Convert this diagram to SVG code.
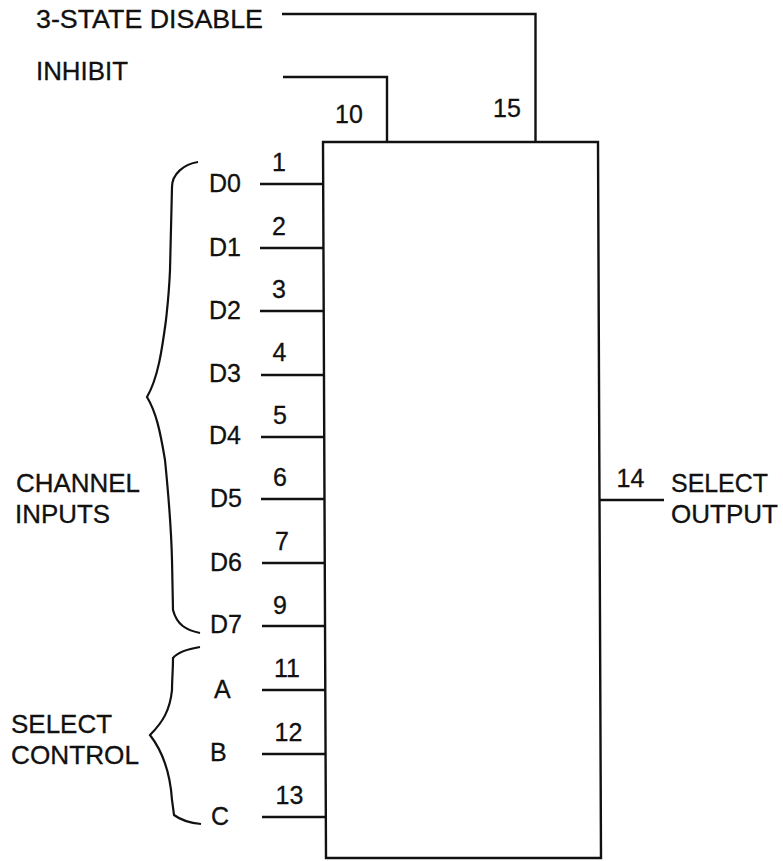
<svg xmlns="http://www.w3.org/2000/svg" width="783" height="861" viewBox="0 0 783 861">
<style>
text{font-family:"Liberation Sans",Arial,sans-serif;font-size:25px;fill:#111;stroke:#111;stroke-width:.3}
.l{fill:none;stroke:#111;stroke-width:2.4}
.b{fill:none;stroke:#111;stroke-width:2.2}
</style>
<rect width="783" height="861" fill="#fff"/>
<g id="chip"><path class="l" d="M323 142H598L601 858H326Z"/></g>
<g id="connectors">
<path class="l" d="M282 14H535.5V142M283 77H387V142"/>
<path class="l" d="M260 184H324M260 248H324M260 311H324M261 375H324M261 437H324M261 499H324M262 563H325M262 626H325M262 690H325M262 754H325M262 817H325M600 500H664"/>
<path class="b" d="M198 162C184 164 172 174 172 187L170 270C169 295 167 310 166 320C162 350 158 378 147 397C156 412 160 430 165 460C168 490 171 520 172 560L173 610C177 625 186 630 200 633"/>
<path class="b" d="M200 647C188 649 178 652 173 658C173 670 172 680 172 690C170 710 163 722 150 735C160 748 170 770 172 800L174 815C182 821 190 823 201 824"/>
</g>
<g id="labels">
<text x="36" y="28" textLength="227" lengthAdjust="spacingAndGlyphs">3-STATE DISABLE</text><text x="36" y="80" textLength="92" lengthAdjust="spacingAndGlyphs">INHIBIT</text>
<text x="335" y="123">10</text><text x="493" y="117">15</text>
<text x="209" y="192">D0</text><text x="209" y="256">D1</text><text x="209" y="319">D2</text><text x="209" y="382">D3</text><text x="209" y="444">D4</text><text x="210" y="507">D5</text><text x="210" y="571">D6</text><text x="210" y="633">D7</text>
<text x="272" y="171">1</text><text x="272" y="235">2</text><text x="272" y="298">3</text><text x="272.500" y="361">4</text><text x="273" y="424">5</text><text x="273" y="486">6</text><text x="275" y="550">7</text><text x="273" y="614">9</text>
<text x="274" y="677">11</text><text x="274.500" y="741">12</text><text x="275.500" y="804">13</text>
<text x="214" y="698">A</text><text x="210" y="761">B</text><text x="211" y="825">C</text>
<text x="16" y="492" textLength="124" lengthAdjust="spacingAndGlyphs">CHANNEL</text><text x="15" y="523" textLength="95" lengthAdjust="spacingAndGlyphs">INPUTS</text>
<text x="11" y="733" textLength="101" lengthAdjust="spacingAndGlyphs">SELECT</text><text x="11" y="764" textLength="128" lengthAdjust="spacingAndGlyphs">CONTROL</text>
<text x="616.500" y="487">14</text><text x="671" y="492" textLength="97" lengthAdjust="spacingAndGlyphs">SELECT</text><text x="671" y="523" textLength="107" lengthAdjust="spacingAndGlyphs">OUTPUT</text>
</g>
</svg>
